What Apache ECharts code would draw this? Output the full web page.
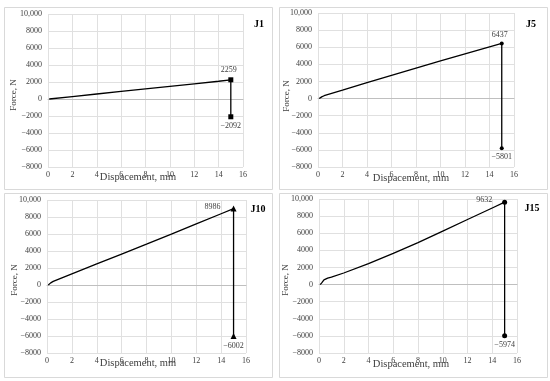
<!DOCTYPE html>
<html>
<head>
<meta charset="utf-8">
<script src="https://cdn.jsdelivr.net/npm/echarts@6/dist/echarts.min.js"></script>
<style>html,body{margin:0;padding:0;background:#fff;}#c{width:550px;height:381px;}</style>
</head>
<body>
<div id="c"></div>
<script>
// ---- data ----
var panelNames = ['J1', 'J5', 'J10', 'J15'];
var j1X = [0.1, 2, 4, 6, 8, 10, 12, 14, 15, 15];
var j1Y = [0, 290, 590, 890, 1190, 1490, 1790, 2090, 2259, -2092];
var j5X = [0.1, 0.3, 0.5, 2, 4, 6, 8, 10, 12, 14, 15, 15];
var j5Y = [0, 200, 330, 980, 1870, 2720, 3560, 4400, 5230, 6050, 6437, -5801];
var j10X = [0.1, 0.3, 0.5, 2, 4, 6, 8, 10, 12, 14, 15, 15];
var j10Y = [0, 250, 420, 1320, 2480, 3640, 4800, 5980, 7180, 8380, 8986, -6002];
var j15X = [0.1, 0.25, 0.4, 0.7, 1, 2, 4, 6, 8, 10, 12, 14, 15, 15];
var j15Y = [0, 250, 550, 750, 880, 1350, 2450, 3650, 4900, 6250, 7600, 8950, 9632, -5974];
var xTicks = [0, 2, 4, 6, 8, 10, 12, 14, 16];
var yTicks = [-8000, -6000, -4000, -2000, 0, 2000, 4000, 6000, 8000, 10000];
var yTickLabels = ['\u22128000', '\u22126000', '\u22124000', '\u22122000', '0', '2000', '4000', '6000', '8000', '10,000'];
var xTitle = 'Dispacement, mm';
var yTitle = 'Force, N';

// ---- layout ----
var FONT = '"Liberation Serif", "Times New Roman", serif';
var grids = [
  {left: 48, right: 307, top: 14, bottom: 214},
  {left: 318, right: 36, top: 13, bottom: 214},
  {left: 47, right: 304, top: 200, bottom: 28},
  {left: 319, right: 33, top: 199, bottom: 28}
];
var boxes = [
  {x: 4, y: 7, w: 268, h: 182},
  {x: 279, y: 7, w: 268, h: 182},
  {x: 4, y: 193, w: 268, h: 184},
  {x: 279, y: 193, w: 268, h: 184}
];
var xTitlePos = [[138, 177], [411, 178], [138, 363], [411, 364]];
var yTitlePos = [[14, 95], [287, 96], [15, 280], [286, 280]];
var nameLabelPos = [[259, 24], [531, 24], [258, 209], [532, 208]];
var symbols = ['rect', 'circle', 'triangle', 'circle'];
var symSizes = [5, 4, 6, 5];
var peakLabelPos = ['top', 'top', 'left', 'left'];
var allX = [j1X, j5X, j10X, j15X];
var allY = [j1Y, j5Y, j10Y, j15Y];

function fmtY(v) {
  var i = yTicks.indexOf(v);
  return i >= 0 ? yTickLabels[i] : String(v);
}
function fmtVal(v) { return v < 0 ? '\u2212' + Math.abs(v) : String(v); }

var option = {
  animation: false,
  backgroundColor: '#fff',
  grid: [], xAxis: [], yAxis: [], series: [], graphic: []
};

for (var p = 0; p < 4; p++) {
  option.grid.push(grids[p]);
  option.xAxis.push({
    type: 'value', gridIndex: p, min: xTicks[0], max: xTicks[xTicks.length - 1], interval: 2,
    axisLine: {show: true, onZero: true, lineStyle: {color: '#bfbfbf', width: 1}},
    axisTick: {show: false},
    axisLabel: {color: '#404040', fontFamily: FONT, fontSize: 8, margin: 4},
    splitLine: {show: true, lineStyle: {color: '#e0e0e0', width: 1}}
  });
  option.yAxis.push({
    type: 'value', gridIndex: p, min: yTicks[0], max: yTicks[yTicks.length - 1], interval: 2000,
    axisLine: {show: false}, axisTick: {show: false},
    axisLabel: {color: '#404040', fontFamily: FONT, fontSize: 8, margin: 6, formatter: fmtY},
    splitLine: {show: true, lineStyle: {color: '#e0e0e0', width: 1}}
  });
  var xs = allX[p], ys = allY[p], data = [];
  for (var i = 0; i < xs.length; i++) {
    var item = {value: [xs[i], ys[i]]};
    if (i >= xs.length - 2) {
      var isPeak = (i === xs.length - 2);
      item.symbol = symbols[p];
      item.symbolSize = symSizes[p];
      item.label = {
        show: true,
        position: isPeak ? peakLabelPos[p] : 'bottom',
        distance: isPeak ? (peakLabelPos[p] === 'left' ? 10 : 3) : 3,
        offset: isPeak && peakLabelPos[p] === 'top' ? [-2, 0] : (isPeak ? [0, -2] : [0, 0]),
        color: '#404040', fontFamily: FONT, fontSize: 8,
        formatter: (function (v) { return function () { return fmtVal(v); }; })(ys[i])
      };
    }
    data.push(item);
  }
  option.series.push({
    type: 'line', xAxisIndex: p, yAxisIndex: p, data: data,
    symbol: 'none', showSymbol: true, showAllSymbol: true,
    lineStyle: {color: '#000', width: 1.3},
    itemStyle: {color: '#000'},
    silent: true
  });
  option.graphic.push({
    type: 'rect', shape: {x: boxes[p].x + 0.5, y: boxes[p].y + 0.5, width: boxes[p].w, height: boxes[p].h},
    style: {fill: 'none', stroke: '#d9d9d9', lineWidth: 1}, z: -1
  });
  option.graphic.push({
    type: 'text', x: xTitlePos[p][0], y: xTitlePos[p][1],
    style: {text: xTitle, fontFamily: FONT, fontSize: 10.5, fill: '#404040', align: 'center', verticalAlign: 'middle'}
  });
  option.graphic.push({
    type: 'text', x: yTitlePos[p][0], y: yTitlePos[p][1], rotation: Math.PI / 2,
    style: {text: yTitle, fontFamily: FONT, fontSize: 9, fill: '#404040', align: 'center', verticalAlign: 'middle'}
  });
  option.graphic.push({
    type: 'text', x: nameLabelPos[p][0], y: nameLabelPos[p][1],
    style: {text: panelNames[p], fontFamily: FONT, fontSize: 10, fontWeight: 'bold', fill: '#000', align: 'center', verticalAlign: 'middle'}
  });
}

var chart = echarts.init(document.getElementById('c'), null, {renderer: 'canvas'});
chart.setOption(option);
</script>
</body>
</html>
